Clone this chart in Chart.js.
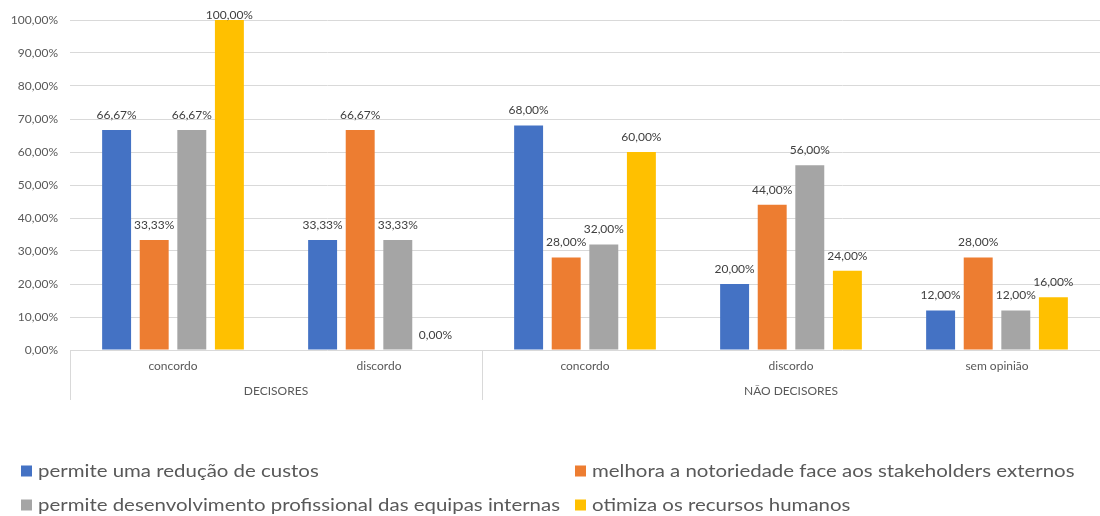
<!DOCTYPE html>
<html>
<head>
<meta charset="utf-8">
<script src="https://cdn.jsdelivr.net/npm/chart.js@4"></script>
<style>
  html, body { margin: 0; padding: 0; background: #fff; }
  #wrap { width: 1100px; height: 516px; position: relative; }
</style>
</head>
<body>
<div id="wrap"><canvas id="surveyChart"></canvas></div>
<script>
// categories (inner level) and their groups (outer level)
const categories = ["concordo", "discordo", "concordo", "discordo", "sem opinião"];
const groups = [
  { label: "DECISORES", from: 0, to: 1 },
  { label: "NÃO DECISORES", from: 2, to: 4 }
];

const seriesNames = [
  "permite uma redução de custos",
  "melhora a notoriedade face aos stakeholders externos",
  "permite desenvolvimento profissional das equipas internas",
  "otimiza os recursos humanos"
];

// percentages per category
const reducaoCustos = [66.67, 33.33, 68.00, 20.00, 12.00];
const notoriedade = [33.33, 66.67, 28.00, 44.00, 28.00];
const desenvolvimento = [66.67, 33.33, 32.00, 56.00, 12.00];
const recursosHumanos = [100.00, 0.00, 60.00, 24.00, 16.00];

const yTicks = [0, 10, 20, 30, 40, 50, 60, 70, 80, 90, 100];

const colors = ["#4472C4", "#ED7D31", "#A5A5A5", "#FFC000"];
const textColor = "#595959";
const fontFamily = "Lato, 'Noto Sans', sans-serif";

function pct(v) {
  return v.toFixed(2).replace(".", ",") + "%";
}

const allSeries = [reducaoCustos, notoriedade, desenvolvimento, recursosHumanos];

// value labels above each bar (kept inside the canvas at the top)
const barLabels = {
  id: "barLabels",
  afterDatasetsDraw(chart) {
    const ctx = chart.ctx;
    ctx.save();
    ctx.font = "12px " + fontFamily;
    ctx.fillStyle = "#404040";
    ctx.textAlign = "center";
    ctx.textBaseline = "bottom";
    chart.data.datasets.forEach((ds, i) => {
      const meta = chart.getDatasetMeta(i);
      meta.data.forEach((bar, j) => {
        ctx.fillText(pct(ds.data[j]), bar.x, Math.max(bar.y - 9, 21));
      });
    });
    ctx.restore();
  }
};

// second level of the category axis: separators + group names
const groupAxis = {
  id: "groupAxis",
  afterDraw(chart) {
    const ctx = chart.ctx;
    const x = chart.scales.x;
    const top = chart.chartArea.bottom;
    const bottom = top + 50;
    ctx.save();
    ctx.strokeStyle = "#d9d9d9";
    ctx.lineWidth = 1;
    const edges = [x.left];
    groups.forEach(g => {
      const right = g.to === categories.length - 1
        ? x.right
        : (x.getPixelForValue(g.to) + x.getPixelForValue(g.to + 1)) / 2;
      edges.push(right);
    });
    edges.forEach(px => {
      const p = Math.round(px) + 0.5;
      ctx.beginPath();
      ctx.moveTo(p, top);
      ctx.lineTo(p, bottom);
      ctx.stroke();
    });
    ctx.font = "12px " + fontFamily;
    ctx.fillStyle = textColor;
    ctx.textAlign = "center";
    ctx.textBaseline = "middle";
    groups.forEach((g, i) => {
      ctx.fillText(g.label, (edges[i] + edges[i + 1]) / 2, top + 41);
    });
    ctx.restore();
  }
};

// two-column legend under the chart
const legendGrid = {
  id: "legendGrid",
  afterDraw(chart) {
    const ctx = chart.ctx;
    const cols = [21, 575];
    const rows = [471, 505];
    const stretch = 1.135;
    ctx.save();
    ctx.font = "18px " + fontFamily;
    ctx.textBaseline = "middle";
    ctx.textAlign = "left";
    chart.data.datasets.forEach((ds, i) => {
      const cx = cols[i % 2];
      const cy = rows[Math.floor(i / 2)];
      ctx.fillStyle = ds.backgroundColor;
      ctx.fillRect(cx, cy - 5.5, 11, 11);
      ctx.save();
      ctx.translate(cx + 17, cy);
      ctx.scale(stretch, 1);
      ctx.fillStyle = textColor;
      ctx.fillText(ds.label, 0, 0);
      ctx.restore();
    });
    ctx.restore();
  }
};

const ctx = document.getElementById("surveyChart").getContext("2d");
const surveyChart = new Chart(ctx, {
  type: "bar",
  data: {
    labels: categories,
    datasets: allSeries.map((data, i) => ({
      label: seriesNames[i],
      data: data,
      backgroundColor: colors[i],
      borderWidth: 0,
      categoryPercentage: 0.73,
      barPercentage: 0.77
    }))
  },
  options: {
    responsive: true,
    maintainAspectRatio: false,
    animation: false,
    layout: { padding: { top: 20, right: 0, bottom: 0, left: 0 } },
    scales: {
      x: {
        grid: { display: false, drawTicks: false },
        border: { display: false },
        ticks: {
          color: textColor,
          font: { family: fontFamily, size: 12 },
          padding: 9,
          maxRotation: 0
        },
        afterFit(scale) { scale.height = 166; }
      },
      y: {
        min: 0,
        max: 100,
        afterBuildTicks(scale) {
          scale.ticks = yTicks.map(v => ({ value: v }));
        },
        grid: { color: "#d9d9d9", drawTicks: false },
        border: { display: false },
        ticks: {
          color: textColor,
          font: { family: fontFamily, size: 12 },
          padding: 12,
          callback: v => pct(v)
        },
        afterFit(scale) { scale.width = 70; }
      }
    },
    plugins: {
      legend: { display: false },
      tooltip: { enabled: false }
    }
  },
  plugins: [barLabels, groupAxis, legendGrid]
});
</script>
</body>
</html>
